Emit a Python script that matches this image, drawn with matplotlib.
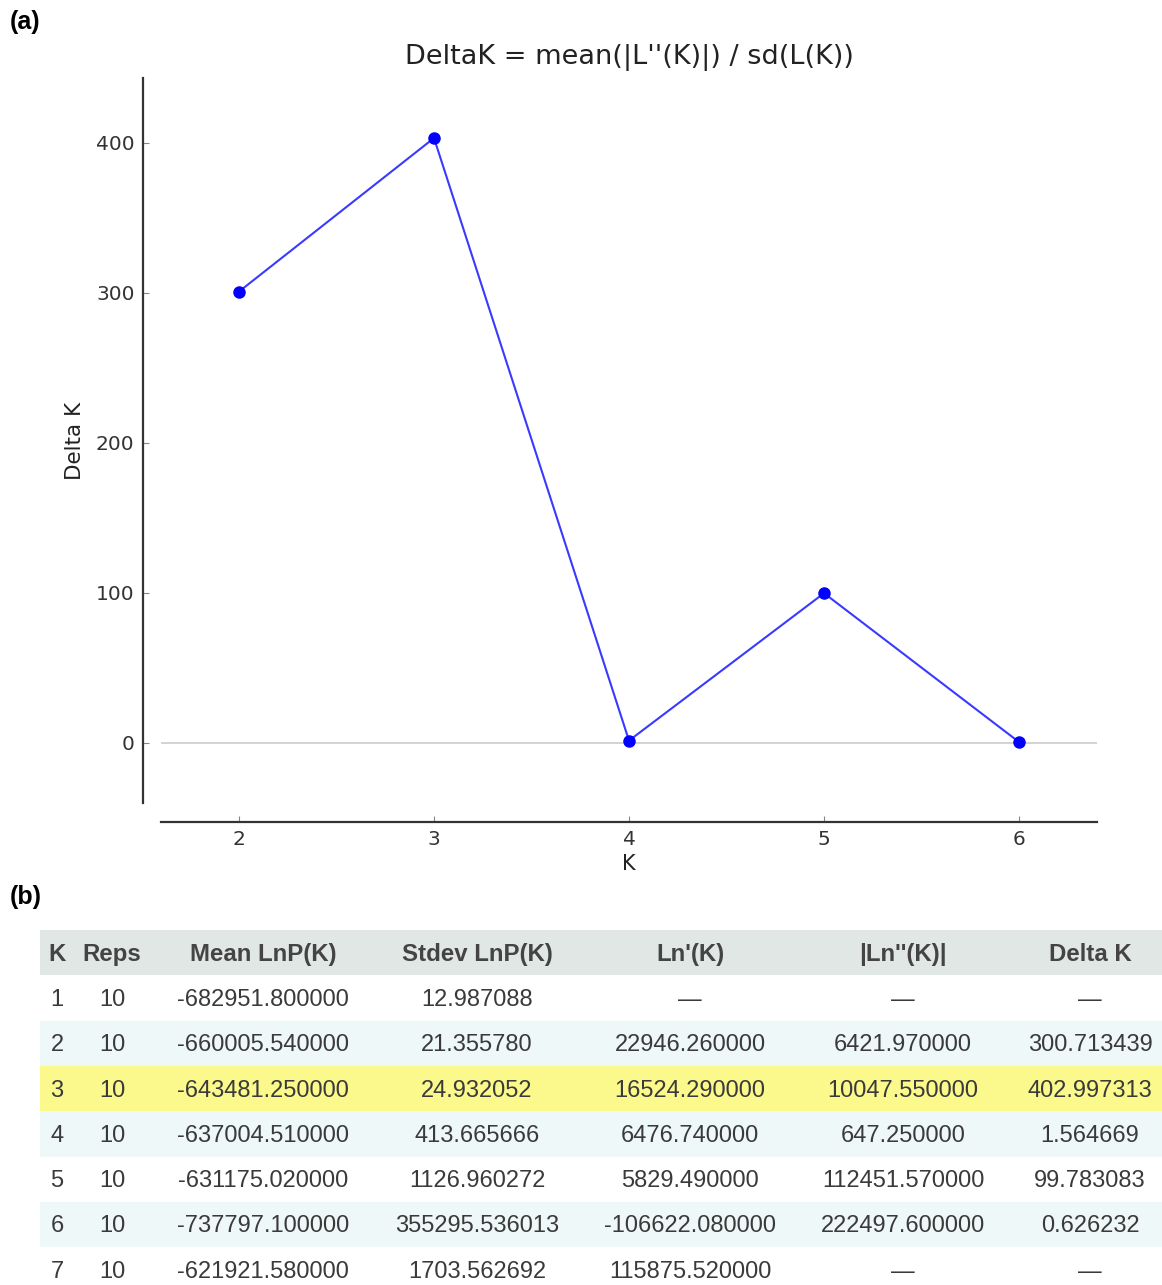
import matplotlib
matplotlib.use("Agg")
import matplotlib.pyplot as plt
from matplotlib.patches import Rectangle

# ---------------------------------------------------
# Data
# ---------------------------------------------------

k_plot = [2, 3, 4, 5, 6]
delta_k = [300.713439, 402.997313, 1.564669, 99.783083, 0.626232]

headers = ["K", "Reps", "Mean LnP(K)", "Stdev LnP(K)", "Ln'(K)", "|Ln''(K)|", "Delta K"]
k_col = ["1", "2", "3", "4", "5", "6", "7"]
reps = ["10", "10", "10", "10", "10", "10", "10"]
mean_lnp = ["-682951.800000", "-660005.540000", "-643481.250000", "-637004.510000",
            "-631175.020000", "-737797.100000", "-621921.580000"]
stdev_lnp = ["12.987088", "21.355780", "24.932052", "413.665666",
             "1126.960272", "355295.536013", "1703.562692"]
ln1 = ["\u2014", "22946.260000", "16524.290000", "6476.740000",
       "5829.490000", "-106622.080000", "115875.520000"]
ln2 = ["\u2014", "6421.970000", "10047.550000", "647.250000",
       "112451.570000", "222497.600000", "\u2014"]
dk_col = ["\u2014", "300.713439", "402.997313", "1.564669",
          "99.783083", "0.626232", "\u2014"]
highlight_row = 2

# ---------------------------------------------------
# Figure
# ---------------------------------------------------

W, H = 1162, 1285
fig = plt.figure(figsize=(W / 100, H / 100), dpi=100)
fig.patch.set_facecolor("white")

# ---------------------------------------------------
# (a) DeltaK plot
# ---------------------------------------------------

ax = fig.add_axes([161 / W, 1 - 803 / H, (1097 - 161) / W, (803 - 78) / H])
ax.axhline(0, color="#cccccc", lw=1.2, zorder=1)
ax.plot(k_plot, delta_k, color="#3a3aff", lw=1.5, zorder=2)
ax.plot(k_plot, delta_k, "o", color="blue", ms=8, zorder=3)

ax.set_xlim(1.6, 6.4)
ax.set_ylim(-40, 443)
ax.set_xticks(k_plot)
ax.set_yticks([0, 100, 200, 300, 400])

for s in ["top", "right"]:
    ax.spines[s].set_visible(False)
ax.spines["left"].set_position(("outward", 13))
ax.spines["bottom"].set_position(("outward", 13.7))
for s in ["left", "bottom"]:
    ax.spines[s].set_color("#333333")
    ax.spines[s].set_linewidth(1.6)

ax.tick_params(direction="in", length=4, width=0.8, color="#888888",
               labelsize=14.5, labelcolor="#333333", pad=6)

ax.set_title("DeltaK = mean(|L''(K)|) / sd(L(K))", fontsize=19.5,
             color="#222222", pad=10)
ax.set_xlabel("K", fontsize=15, color="#222222", labelpad=3)
ax.set_ylabel("Delta K", fontsize=15.5, color="#222222", labelpad=8)

fig.text(10 / W, 1 - 22 / H, "(a)", fontsize=18, fontweight="bold",
         family="Liberation Sans", va="center", ha="left")
fig.text(10 / W, 1 - 897 / H, "(b)", fontsize=18, fontweight="bold",
         family="Liberation Sans", va="center", ha="left")

# ---------------------------------------------------
# (b) Table
# ---------------------------------------------------

tab = fig.add_axes([0, 0, 1, 1])
tab.set_xlim(0, W)
tab.set_ylim(H, 0)
tab.axis("off")
tab.patch.set_alpha(0)

col_x = [57, 112, 263, 477, 690, 903, 1090]
columns = [k_col, reps, mean_lnp, stdev_lnp, ln1, ln2, dk_col]
top = 930
row_h = 45.3
left = 40

tab.add_patch(Rectangle((left, top), W - left, row_h, facecolor="#e1e7e5",
                        edgecolor="none"))
for x, h in zip(col_x, headers):
    tab.text(x, top + row_h / 2 + 2, h, ha="center", va="center", fontsize=17.3,
             fontweight="bold", family="Liberation Sans", color="#444444")

for i in range(len(k_col)):
    y0 = top + row_h * (i + 1)
    if i == highlight_row:
        fc = "#fbf98c"
    elif i % 2 == 1:
        fc = "#eef8f8"
    else:
        fc = "white"
    tab.add_patch(Rectangle((left, y0), W - left, row_h, facecolor=fc,
                            edgecolor="none"))
    for x, col in zip(col_x, columns):
        tab.text(x, y0 + row_h / 2 + 2, col[i], ha="center", va="center",
                 fontsize=17, family="Liberation Sans", color="#3a3a3a")

fig.savefig("out.png", dpi=100)
